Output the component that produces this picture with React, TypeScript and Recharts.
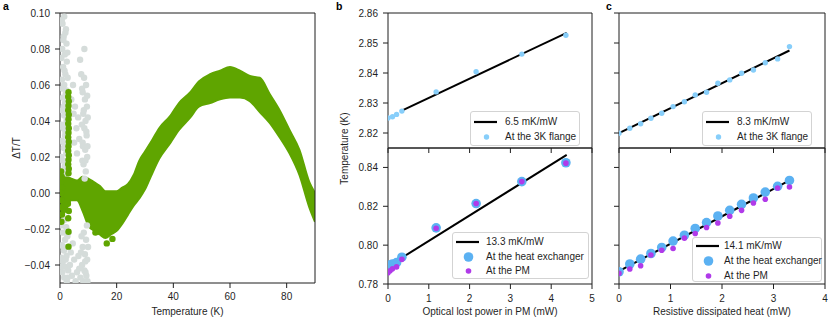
import React from "react";
import {
  ComposedChart,
  ScatterChart,
  Scatter,
  Area,
  XAxis,
  YAxis,
  ReferenceArea,
} from "recharts";

const W = 830;
const H = 321;
const FONT = "'Liberation Sans', Arial, Helvetica, sans-serif";
const INK = "#1f1f1f";
const GREEN = "#5fa500";
const GREY = "#d5dcda";
const FLANGE = "#87cefa";
const EXCH = "#5bb1f2";
const PM = "#b03ae9";

// ---- panel a : dT/T vs temperature ----
const bandT = [0, 2, 4, 6, 8, 10, 12, 14, 16, 18, 20, 22, 24, 26, 28, 30, 32, 35, 39, 42, 46, 49, 53, 56.5, 60, 63.5, 67, 70.5, 74, 77.5, 81, 84.5, 88, 90];
const bandLo = [-0.014, -0.01, -0.004, -0.004, -0.01, -0.018, -0.021, -0.023, -0.025, -0.023, -0.021, -0.017, -0.012, -0.007, -0.003, 0.002, 0.009, 0.019, 0.028, 0.035, 0.042, 0.048, 0.05, 0.052, 0.053, 0.053, 0.051, 0.045, 0.039, 0.031, 0.022, 0.01, -0.008, -0.016];
const bandHi = [0.011, 0.009, 0.008, 0.007, 0.009, 0.008, 0.006, 0.004, 0.001, 0.001, 0.001, 0.003, 0.005, 0.01, 0.018, 0.023, 0.028, 0.036, 0.043, 0.05, 0.056, 0.062, 0.066, 0.068, 0.07, 0.068, 0.065, 0.064, 0.055, 0.046, 0.035, 0.024, 0.006, 0.0];

// green points outside the band (low temperature spike etc.)
const greenT = [
  3.0, 2.9, 3.1, 3.0, 2.9, 3.1, 3.0, 2.9, 3.1, 3.0, 2.9, 3.1, 3.0, 2.9, 3.1, 3.0, 2.9, 3.1, 3.0,
  0.4, 0.6, 0.3, 0.7, 0.4, 0.6, 0.3, 0.7, 0.5,
  2.8, 3.1, 2.9, 3.0, 3.0, 16.5, 18.5, 12.5,
];
const greenV = [
  0.056, 0.0535, 0.051, 0.0485, 0.046, 0.0435, 0.041, 0.0385, 0.036, 0.0335, 0.031, 0.0285, 0.026, 0.0235, 0.021, 0.0185, 0.016, 0.0135, 0.011,
  0.012, 0.009, 0.006, 0.003, 0.0, -0.004, -0.008, -0.012, -0.016,
  -0.006, -0.01, -0.014, -0.0215, -0.0298, -0.028, -0.0255, -0.022,
];

// grey (reference run) points, all below 10 K
const greyT = [
  1.5, 0.9, 2.1, 1.3, 2.3, 0.8, 1.7, 2.4, 1.1, 1.9, 0.7, 1.5, 2.3, 1.0, 1.8, 0.8, 1.5, 2.3, 1.1, 1.8, 0.7, 1.4, 2.2, 1.0, 1.7, 0.6, 2.0,
  0.6, 1.9, 1.2, 2.6, 0.5, 1.6, 2.7, 0.9, 2.0, 1.3, 2.6, 0.6, 1.9, 1.2, 2.5, 0.5, 1.7,
  1.5, 2.2, 1.0, 1.8, 0.7, 1.4, 2.3, 1.0, 1.8, 0.8, 1.5, 2.4, 3.5, 4.2, 3.8, 5.0, 4.5, 6.0, 5.5, 6.5,
  0.5, 2.6, 1.2, 2.8, 0.4, 2.0, 2.9, 0.5, 2.7, 3.0,
  4.6, 4.0, 5.3, 4.8, 6.4, 5.8, 6.8, 5.0, 6.0, 7.1, 8.6, 7.5,
  8.5, 9.2, 8.0, 8.8, 9.5, 8.2, 9.0, 8.6, 9.4, 8.0, 8.9, 9.6, 8.3, 9.1, 8.7,
  7.8, 9.6, 8.4, 9.8, 7.7, 9.3, 8.1, 9.7, 7.9, 9.0,
  9.5, 8.4, 9.2, 8.0, 8.8, 9.6, 7.8, 8.6, 9.3, 8.2, 7.2, 6.8, 9.7,
  7.6, 9.9, 8.9, 7.4, 9.0,
];
const greyV = [
  0.098, 0.094, 0.091, 0.087, 0.083, 0.08, 0.077, 0.073, 0.07, 0.066, 0.063, 0.06, 0.057, 0.053, 0.05, 0.046, 0.043, 0.04, 0.036, 0.032, 0.029, 0.025, 0.022, 0.018, 0.015, 0.012, 0.011,
  0.096, 0.089, 0.085, 0.078, 0.075, 0.068, 0.064, 0.058, 0.055, 0.048, 0.045, 0.038, 0.034, 0.028, 0.026, 0.02, 0.014,
  -0.015, -0.019, -0.022, -0.026, -0.029, -0.032, -0.035, -0.038, -0.041, -0.044, -0.047, -0.049, -0.04, -0.046, -0.033, -0.037, -0.028, -0.044, -0.049, -0.035,
  -0.018, -0.024, -0.03, -0.03, -0.036, -0.037, -0.043, -0.041, -0.047, -0.022,
  0.06, 0.052, 0.048, 0.044, 0.042, 0.036, 0.03, 0.028, 0.022, 0.074, 0.08, 0.066,
  0.064, 0.06, 0.056, 0.052, 0.048, 0.044, 0.04, 0.036, 0.032, 0.028, 0.024, 0.02, 0.016, 0.012, 0.008,
  0.058, 0.054, 0.046, 0.042, 0.038, 0.034, 0.026, 0.026, 0.018, 0.018,
  -0.018, -0.022, -0.026, -0.03, -0.034, -0.037, -0.04, -0.043, -0.046, -0.049, -0.047, -0.042, -0.049,
  -0.024, -0.03, -0.038, -0.033, -0.044,
];

const tempTicks = [0, 20, 40, 60, 80];
const dttTicks = [-0.04, -0.02, 0, 0.02, 0.04, 0.06, 0.08, 0.1];

// ---- panel b : optical power ----
const flangeBX = [0.0, 0.11, 0.21, 0.34, 1.18, 2.16, 3.28, 4.36];
const flangeBY = [2.825, 2.8254, 2.8262, 2.8273, 2.8337, 2.8404, 2.8463, 2.8526];
const fitBTopX = [0.3, 4.38];
const fitBTopY = [2.8272, 2.8534];

const powerB = [0.0, 0.05, 0.11, 0.21, 0.34, 1.18, 2.16, 3.28, 4.36];
const exchB = [0.7893, 0.7898, 0.7903, 0.791, 0.7938, 0.8089, 0.8214, 0.8327, 0.8424];
const pmB = [0.7858, 0.7868, 0.7878, 0.7888, 0.7927, 0.8087, 0.8214, 0.8327, 0.8422];
const fitBBotX = [0.3, 4.38];
const fitBBotY = [0.793, 0.8465];

// ---- panel c : resistive heat ----
const heatC = [0.0, 0.21, 0.42, 0.62, 0.83, 1.05, 1.27, 1.48, 1.7, 1.92, 2.15, 2.38, 2.61, 2.84, 3.08, 3.31];
const flangeC = [2.8199, 2.8216, 2.8231, 2.8249, 2.8266, 2.8288, 2.8304, 2.8327, 2.8336, 2.8366, 2.8377, 2.8399, 2.841, 2.8434, 2.8447, 2.8488];
const exchC = [0.7863, 0.7903, 0.7928, 0.7957, 0.7988, 0.8021, 0.8051, 0.8086, 0.8116, 0.815, 0.8179, 0.821, 0.8243, 0.8273, 0.8303, 0.8333];
const pmC = [0.7855, 0.7877, 0.7894, 0.7949, 0.7974, 0.7983, 0.8036, 0.806, 0.8091, 0.8114, 0.8149, 0.8179, 0.8217, 0.8236, 0.8294, 0.8299];
const fitCTopX = [0, 3.31];
const fitCTopY = [2.82, 2.8475];
const fitCBotX = [0, 3.31];
const fitCBotY = [0.7866, 0.8333];

const topTicks = [2.82, 2.83, 2.84, 2.85, 2.86];
const botTicks = [0.78, 0.8, 0.82, 0.84];

const pts = (xs: number[], ys: number[]) => xs.map((x, i) => ({ x, y: ys[i] }));
const bandData = bandT.map((t, i) => ({ t, range: [bandLo[i], bandHi[i]] }));
const greenPts = greenT.map((t, i) => ({ t, v: greenV[i] }));
const greyPts = greyT.map((t, i) => ({ t, v: greyV[i] }));

const fmt2 = (v: number) => (v < 0 ? "\u2212" : "") + Math.abs(v).toFixed(2);
const blank = () => "";
const tickStyle = { fontSize: 10, fill: INK, fontFamily: FONT };
const axisCommon = {
  type: "number" as const,
  axisLine: false,
  tickLine: { stroke: INK, strokeWidth: 1 },
  tickSize: 5,
  tickMargin: 5,
  tick: tickStyle,
  allowDataOverflow: true,
  interval: 0 as const,
};

const dot = (r: number, fill: string) => (p: any) => (
  <circle cx={p.cx} cy={p.cy} r={r} fill={fill} />
);
const noDot = () => <g />;
const fitLine = { stroke: "#000", strokeWidth: 2 };

const Layer = ({ children }: { children: React.ReactNode }) => (
  <div style={{ position: "absolute", left: 0, top: 0 }}>{children}</div>
);

type Row = { kind: "line" | "dot"; color: string; r?: number; label: string };

function LegendBox({ left, top, width, height, rows, textX, rowY }: {
  left: number; top: number; width: number; height: number; rows: Row[]; textX: number; rowY: number[];
}) {
  return (
    <div
      style={{
        position: "absolute", left, top, width, height, boxSizing: "border-box",
        border: "1px solid #d3d3d3", borderRadius: 3, background: "rgba(255,255,255,0.8)",
        fontFamily: FONT, fontSize: 10, color: INK,
      }}
    >
      {rows.map((row, i) => (
        <React.Fragment key={row.label}>
          <svg style={{ position: "absolute", left: 2, top: rowY[i] - 6 }} width={26} height={12}>
            {row.kind === "line" ? (
              <line x1={1} x2={24} y1={6} y2={6} stroke={row.color} strokeWidth={2.2} />
            ) : (
              <circle cx={13.5} cy={6} r={row.r} fill={row.color} />
            )}
          </svg>
          <span
            style={{
              position: "absolute", left: textX, top: rowY[i], transform: "translateY(-50%)",
              lineHeight: "12px", whiteSpace: "nowrap",
            }}
          >
            {row.label}
          </span>
        </React.Fragment>
      ))}
    </div>
  );
}

function Annotations() {
  const t = { fontFamily: FONT, fontSize: 10, fill: INK };
  const b = { fontFamily: FONT, fontSize: 10.5, fill: "#000", fontWeight: 700 };
  return (
    <svg width={W} height={H} style={{ position: "absolute", left: 0, top: 0 }}>
      <text x={3} y={9.5} {...b}>a</text>
      <text x={336} y={9.5} {...b}>b</text>
      <text x={606} y={9.5} {...b}>c</text>
      <text x={187.5} y={314.5} textAnchor="middle" {...t}>Temperature (K)</text>
      <text x={490} y={314.5} textAnchor="middle" {...t}>Optical lost power in PM (mW)</text>
      <text x={722} y={314.5} textAnchor="middle" {...t}>Resistive dissipated heat (mW)</text>
      <text x={20.3} y={148} textAnchor="middle" transform="rotate(-90 20.3 148)" {...t}>ΔT/T</text>
      <text x={348} y={148.5} textAnchor="middle" transform="rotate(-90 348 148.5)" {...t}>Temperature (K)</text>
    </svg>
  );
}

export default function App() {
  return (
    <div style={{ position: "absolute", left: 0, top: 0, width: W, height: H, background: "#fff", fontFamily: FONT }}>
      {/* a */}
      <Layer>
        <ComposedChart width={W} height={H} data={bandData} margin={{ top: 13, right: W - 315, bottom: 8, left: 0 }}>
          <XAxis {...axisCommon} dataKey="t" domain={[0, 90]} ticks={tempTicks} height={30} />
          <YAxis {...axisCommon} dataKey="v" domain={[-0.05, 0.1]} ticks={dttTicks} tickFormatter={fmt2} width={60} />
          <Scatter data={greyPts} fill={GREY} shape={dot(3.2, GREY)} isAnimationActive={false} />
          <Area
            dataKey="range"
            type="monotone"
            fill={GREEN}
            fillOpacity={1}
            stroke={GREEN}
            strokeWidth={2}
            dot={false}
            activeDot={false}
            isAnimationActive={false}
          />
          <Scatter data={greenPts} fill={GREEN} shape={dot(3.2, GREEN)} isAnimationActive={false} />
          <ReferenceArea x1={0} x2={90} y1={-0.05} y2={0.1} fill="none" stroke={INK} strokeWidth={1} ifOverflow="visible" />
        </ComposedChart>
      </Layer>

      {/* b top */}
      <Layer>
        <ScatterChart width={W} height={H} margin={{ top: 13, right: W - 592, bottom: H - 148 - 10, left: 388 - 60 }}>
          <XAxis {...axisCommon} dataKey="x" domain={[0, 5]} ticks={[0, 1, 2, 3, 4, 5]} tickFormatter={blank} height={10} />
          <YAxis {...axisCommon} dataKey="y" domain={[2.815, 2.86]} ticks={topTicks} tickFormatter={(v: number) => v.toFixed(2)} width={60} />
          <Scatter data={pts(fitBTopX, fitBTopY)} line={fitLine} shape={noDot} isAnimationActive={false} />
          <Scatter data={pts(flangeBX, flangeBY)} shape={dot(2.7, FLANGE)} isAnimationActive={false} />
          <ReferenceArea x1={0} x2={5} y1={2.815} y2={2.86} fill="none" stroke={INK} strokeWidth={1} ifOverflow="visible" />
        </ScatterChart>
      </Layer>

      {/* b bottom */}
      <Layer>
        <ScatterChart width={W} height={H} margin={{ top: 148, right: W - 592, bottom: H - 284 - 30, left: 388 - 60 }}>
          <XAxis {...axisCommon} dataKey="x" domain={[0, 5]} ticks={[0, 1, 2, 3, 4, 5]} tickMargin={6} height={30} />
          <YAxis {...axisCommon} dataKey="y" domain={[0.78, 0.85]} ticks={botTicks} tickFormatter={(v: number) => v.toFixed(2)} width={60} />
          <Scatter data={pts(fitBBotX, fitBBotY)} line={fitLine} shape={noDot} isAnimationActive={false} />
          <Scatter data={pts(powerB, exchB)} shape={dot(4.8, EXCH)} isAnimationActive={false} />
          <Scatter data={pts(powerB, pmB)} shape={dot(2.8, PM)} isAnimationActive={false} />
          <ReferenceArea x1={0} x2={5} y1={0.78} y2={0.85} fill="none" stroke={INK} strokeWidth={1} ifOverflow="visible" />
        </ScatterChart>
      </Layer>

      {/* c top */}
      <Layer>
        <ScatterChart width={W} height={H} margin={{ top: 13, right: W - 825, bottom: H - 148 - 10, left: 619 - 30 }}>
          <XAxis {...axisCommon} dataKey="x" domain={[0, 4]} ticks={[0, 1, 2, 3, 4]} tickFormatter={blank} height={10} />
          <YAxis {...axisCommon} dataKey="y" domain={[2.815, 2.86]} ticks={topTicks} tickFormatter={blank} width={30} />
          <Scatter data={pts(fitCTopX, fitCTopY)} line={fitLine} shape={noDot} isAnimationActive={false} />
          <Scatter data={pts(heatC, flangeC)} shape={dot(2.7, FLANGE)} isAnimationActive={false} />
          <ReferenceArea x1={0} x2={4} y1={2.815} y2={2.86} fill="none" stroke={INK} strokeWidth={1} ifOverflow="visible" />
        </ScatterChart>
      </Layer>

      {/* c bottom */}
      <Layer>
        <ScatterChart width={W} height={H} margin={{ top: 148, right: W - 825, bottom: H - 284 - 30, left: 619 - 30 }}>
          <XAxis {...axisCommon} dataKey="x" domain={[0, 4]} ticks={[0, 1, 2, 3, 4]} tickMargin={6} height={30} />
          <YAxis {...axisCommon} dataKey="y" domain={[0.78, 0.85]} ticks={botTicks} tickFormatter={blank} width={30} />
          <Scatter data={pts(fitCBotX, fitCBotY)} line={fitLine} shape={noDot} isAnimationActive={false} />
          <Scatter data={pts(heatC, exchC)} shape={dot(4.8, EXCH)} isAnimationActive={false} />
          <Scatter data={pts(heatC, pmC)} shape={dot(2.8, PM)} isAnimationActive={false} />
          <ReferenceArea x1={0} x2={4} y1={0.78} y2={0.85} fill="none" stroke={INK} strokeWidth={1} ifOverflow="visible" />
        </ScatterChart>
      </Layer>

      <LegendBox
        left={470} top={111} width={110} height={35} textX={34} rowY={[10, 25]}
        rows={[
          { kind: "line", color: "#000", label: "6.5 mK/mW" },
          { kind: "dot", color: FLANGE, r: 2.7, label: "At the 3K flange" },
        ]}
      />
      <LegendBox
        left={452} top={232} width={137} height={47} textX={33} rowY={[9, 24, 38]}
        rows={[
          { kind: "line", color: "#000", label: "13.3 mK/mW" },
          { kind: "dot", color: EXCH, r: 4.8, label: "At the heat exchanger" },
          { kind: "dot", color: PM, r: 2.8, label: "At the PM" },
        ]}
      />
      <LegendBox
        left={702} top={111} width={110} height={35} textX={34} rowY={[10, 25]}
        rows={[
          { kind: "line", color: "#000", label: "8.3 mK/mW" },
          { kind: "dot", color: FLANGE, r: 2.7, label: "At the 3K flange" },
        ]}
      />
      <LegendBox
        left={692} top={237} width={130} height={45} textX={31} rowY={[8, 23, 38]}
        rows={[
          { kind: "line", color: "#000", label: "14.1 mK/mW" },
          { kind: "dot", color: EXCH, r: 4.8, label: "At the heat exchanger" },
          { kind: "dot", color: PM, r: 2.8, label: "At the PM" },
        ]}
      />
      <Annotations />
    </div>
  );
}
